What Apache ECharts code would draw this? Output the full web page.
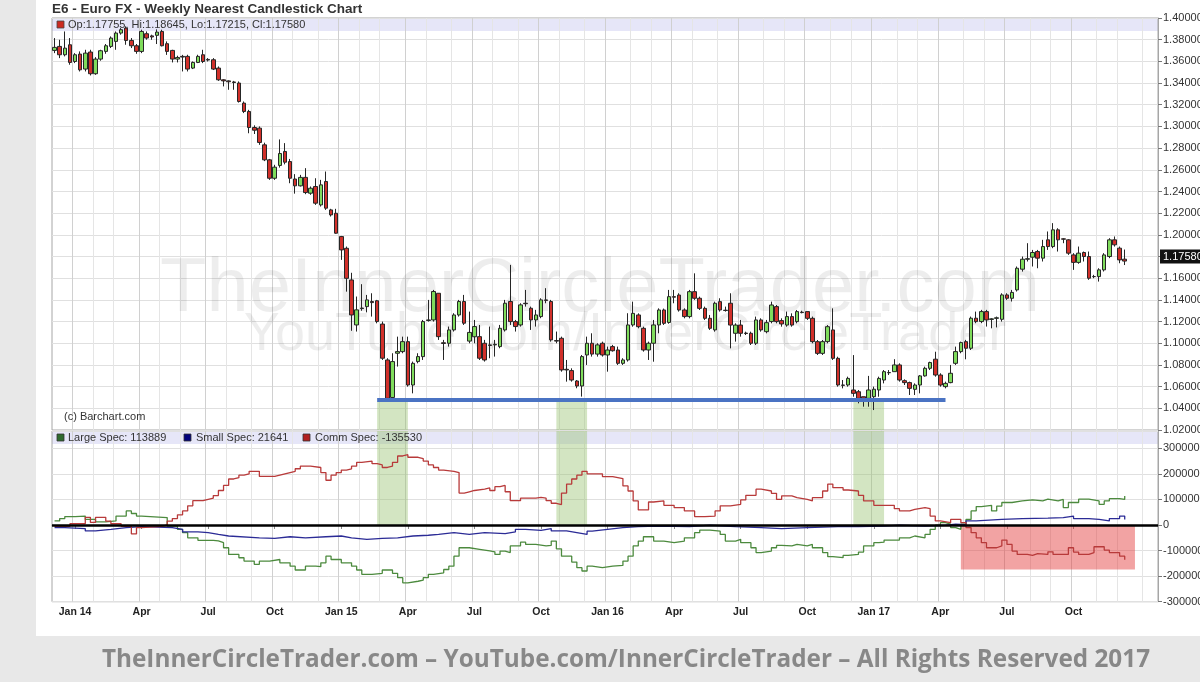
<!DOCTYPE html>
<html><head><meta charset="utf-8">
<script src="https://cdn.jsdelivr.net/npm/echarts@6/dist/echarts.min.js"></script>
<style>html,body{margin:0;padding:0;background:#e8e8e8;}#c{width:1200px;height:682px;}</style>
</head><body><div id="c"></div>
<script>
// ---------- DATA ----------
const startWeek = '2013-12-02';
const weekCount = 216;

// weekly candles: [open, high, low, close]
const ohlc = [
[1.3701,1.3815,1.3676,1.3729],[1.3738,1.3799,1.3630,1.3661],[1.3661,1.3876,1.3646,1.3722],[1.3753,1.3815,1.3569,1.3590],
[1.3599,1.3676,1.3584,1.3661],[1.3667,1.3692,1.3507,1.3522],[1.3529,1.3707,1.3507,1.3676],[1.3686,1.3707,1.3470,1.3486],
[1.3486,1.3639,1.3476,1.3621],[1.3621,1.3707,1.3606,1.3698],[1.3692,1.3760,1.3670,1.3744],[1.3738,1.3830,1.3723,1.3815],
[1.3784,1.3876,1.3707,1.3861],[1.3861,1.3907,1.3846,1.3892],[1.3907,1.3923,1.3753,1.3793],[1.3793,1.3815,1.3723,1.3744],
[1.3744,1.3760,1.3670,1.3692],[1.3692,1.3892,1.3676,1.3876],[1.3855,1.3876,1.3800,1.3815],[1.3835,1.3846,1.3799,1.3825],
[1.3840,1.3895,1.3760,1.3870],[1.3876,1.3892,1.3738,1.3744],[1.3763,1.3784,1.3660,1.3692],[1.3701,1.3707,1.3590,1.3621],
[1.3621,1.3652,1.3590,1.3636],[1.3646,1.3660,1.3507,1.3640],[1.3646,1.3661,1.3507,1.3529],[1.3538,1.3599,1.3529,1.3590],
[1.3590,1.3661,1.3584,1.3646],[1.3661,1.3707,1.3584,1.3599],[1.3618,1.3630,1.3599,1.3612],[1.3615,1.3630,1.3520,1.3529],
[1.3538,1.3553,1.3420,1.3430],[1.3430,1.3435,1.3369,1.3420],[1.3420,1.3425,1.3338,1.3412],[1.3410,1.3420,1.3338,1.3405],
[1.3400,1.3415,1.3220,1.3230],[1.3215,1.3230,1.3123,1.3138],[1.3138,1.3153,1.2937,1.2990],[1.2990,1.3010,1.2930,1.2965],
[1.2984,1.3000,1.2830,1.2852],[1.2830,1.2850,1.2680,1.2692],[1.2692,1.2700,1.2507,1.2522],[1.2522,1.2646,1.2507,1.2624],
[1.2640,1.2880,1.2620,1.2750],[1.2769,1.2846,1.2650,1.2670],[1.2676,1.2700,1.2476,1.2522],[1.2515,1.2560,1.2380,1.2452],
[1.2452,1.2553,1.2446,1.2530],[1.2530,1.2615,1.2375,1.2390],[1.2384,1.2446,1.2369,1.2430],[1.2446,1.2522,1.2276,1.2292],
[1.2276,1.2507,1.2261,1.2461],[1.2492,1.2584,1.2230,1.2246],[1.2230,1.2240,1.2169,1.2184],[1.2199,1.2240,1.2010,1.2015],
[1.1984,1.1990,1.1769,1.1861],[1.1876,1.1892,1.1476,1.1599],[1.1584,1.1650,1.1115,1.1261],[1.1169,1.1431,1.1108,1.1308],
[1.1320,1.1545,1.1300,1.1325],[1.1338,1.1446,1.1285,1.1400],[1.1385,1.1461,1.1246,1.1375],[1.1392,1.1400,1.1184,1.1200],
[1.1177,1.1200,1.0846,1.0862],[1.0846,1.0862,1.0480,1.0492],[1.0500,1.0908,1.0480,1.0831],[1.0908,1.1061,1.0785,1.0923],
[1.0923,1.1061,1.0908,1.1015],[1.1015,1.1061,1.0600,1.0615],[1.0615,1.0831,1.0538,1.0815],[1.0831,1.0908,1.0815,1.0877],
[1.0877,1.1215,1.0846,1.1200],[1.1210,1.1400,1.1200,1.1215],[1.1215,1.1492,1.1200,1.1477],[1.1461,1.1461,1.1031,1.1061],
[1.1005,1.1031,1.0846,1.0998],[1.1000,1.1154,1.0969,1.1123],[1.1123,1.1277,1.1108,1.1261],[1.1261,1.1400,1.1246,1.1385],
[1.1385,1.1446,1.1169,1.1185],[1.1020,1.1292,1.1000,1.1100],[1.1060,1.1215,1.1000,1.1154],[1.1061,1.1169,1.0846,1.0862],
[1.1000,1.1031,1.0831,1.0846],[1.0985,1.1154,1.0862,1.0980],[1.0985,1.1031,1.0877,1.0990],[1.0969,1.1169,1.0954,1.1138],
[1.1123,1.1400,1.1108,1.1369],[1.1385,1.1723,1.1169,1.1200],[1.1200,1.1215,1.1108,1.1154],[1.1169,1.1369,1.1154,1.1354],
[1.1369,1.1492,1.1338,1.1365],[1.1323,1.1338,1.1123,1.1215],[1.1215,1.1308,1.1154,1.1261],[1.1246,1.1415,1.1231,1.1400],
[1.1400,1.1508,1.1369,1.1395],[1.1385,1.1400,1.1015,1.1031],[1.1025,1.1108,1.1000,1.1020],[1.1046,1.1061,1.0738,1.0754],
[1.0760,1.0846,1.0646,1.0754],[1.0748,1.0769,1.0646,1.0661],[1.0652,1.0661,1.0585,1.0606],[1.0606,1.0892,1.0508,1.0877],
[1.0892,1.1061,1.0800,1.1000],[1.1000,1.1092,1.0877,1.0900],[1.0900,1.1000,1.0877,1.0985],[1.1000,1.1015,1.0877,1.0892],
[1.0892,1.0969,1.0738,1.0938],[1.0969,1.0985,1.0923,1.0931],[1.0938,1.0969,1.0800,1.0815],[1.0815,1.0862,1.0800,1.0846],
[1.0846,1.1277,1.0831,1.1169],[1.1169,1.1384,1.1153,1.1276],[1.1261,1.1276,1.1138,1.1153],[1.1138,1.1153,1.0923,1.0938],
[1.0938,1.1015,1.0846,1.1000],[1.1000,1.1215,1.0830,1.1169],[1.1169,1.1322,1.1092,1.1307],[1.1307,1.1320,1.1169,1.1184],
[1.1192,1.1492,1.1180,1.1430],[1.1430,1.1492,1.1369,1.1425],[1.1445,1.1461,1.1292,1.1307],[1.1307,1.1322,1.1230,1.1246],
[1.1246,1.1492,1.1230,1.1476],[1.1476,1.1645,1.1400,1.1415],[1.1415,1.1430,1.1307,1.1322],[1.1322,1.1338,1.1215,1.1230],
[1.1230,1.1261,1.1123,1.1138],[1.1123,1.1384,1.1107,1.1369],[1.1384,1.1415,1.1292,1.1307],[1.1305,1.1338,1.1292,1.1302],
[1.1369,1.1461,1.0953,1.1168],[1.1092,1.1184,1.1015,1.1168],[1.1168,1.1215,1.1061,1.1092],[1.1094,1.1107,1.1076,1.1090],
[1.1092,1.1107,1.0984,1.1000],[1.1000,1.1246,1.0984,1.1215],[1.1215,1.1230,1.1107,1.1123],[1.1107,1.1215,1.1092,1.1190],
[1.1200,1.1384,1.1184,1.1353],[1.1338,1.1353,1.1184,1.1200],[1.1209,1.1230,1.1153,1.1178],[1.1168,1.1292,1.1153,1.1246],
[1.1246,1.1276,1.1153,1.1168],[1.1200,1.1307,1.1184,1.1292],[1.1287,1.1300,1.1276,1.1283],[1.1292,1.1292,1.1215,1.1230],
[1.1230,1.1246,1.1000,1.1015],[1.1015,1.1030,1.0892,1.0907],[1.0907,1.1030,1.0892,1.1015],[1.1015,1.1168,1.1000,1.1153],
[1.1123,1.1322,1.0846,1.0861],[1.0861,1.0876,1.0600,1.0615],[1.0615,1.0661,1.0584,1.0612],[1.0615,1.0692,1.0600,1.0676],
[1.0569,1.0891,1.0507,1.0538],[1.0553,1.0569,1.0446,1.0492],[1.0507,1.0507,1.0415,1.0492],[1.0492,1.0699,1.0415,1.0569],
[1.0507,1.0600,1.0384,1.0576],[1.0569,1.0692,1.0507,1.0676],[1.0661,1.0753,1.0630,1.0738],[1.0730,1.0753,1.0707,1.0728],
[1.0738,1.0853,1.0738,1.0800],[1.0800,1.0815,1.0646,1.0661],[1.0655,1.0667,1.0615,1.0637],[1.0637,1.0646,1.0523,1.0584],
[1.0575,1.0630,1.0523,1.0615],[1.0615,1.0707,1.0538,1.0699],[1.0699,1.0784,1.0692,1.0769],[1.0769,1.0830,1.0753,1.0822],
[1.0853,1.0922,1.0692,1.0707],[1.0707,1.0723,1.0600,1.0615],[1.0600,1.0646,1.0584,1.0630],[1.0637,1.0800,1.0631,1.0723],
[1.0815,1.0969,1.0800,1.0923],[1.0923,1.1015,1.0908,1.1006],[1.1015,1.1031,1.0852,1.0954],[1.0954,1.1246,1.0938,1.1231],
[1.1231,1.1292,1.1185,1.1200],[1.1200,1.1308,1.1185,1.1292],[1.1292,1.1308,1.1154,1.1215],[1.1220,1.1231,1.1138,1.1225],
[1.1230,1.1246,1.1146,1.1235],[1.1221,1.1461,1.1200,1.1446],[1.1446,1.1461,1.1400,1.1415],[1.1415,1.1492,1.1385,1.1469],
[1.1492,1.1708,1.1477,1.1692],[1.1683,1.1800,1.1661,1.1775],[1.1775,1.1923,1.1754,1.1780],[1.1794,1.1861,1.1708,1.1837],
[1.1846,1.1861,1.1692,1.1785],[1.1785,1.1954,1.1754,1.1892],[1.1954,1.2031,1.1861,1.1892],[1.1892,1.2108,1.1877,1.2046],
[1.2046,1.2061,1.1846,1.1954],[1.1963,1.1969,1.1923,1.1960],[1.1954,1.1960,1.1815,1.1831],[1.1815,1.1831,1.1677,1.1746],
[1.1746,1.1892,1.1733,1.1831],[1.1837,1.1846,1.1754,1.1800],[1.1800,1.1846,1.1585,1.1600],[1.1615,1.1631,1.1600,1.1615],
[1.1615,1.1692,1.1569,1.1677],[1.1677,1.1831,1.1662,1.1815],[1.1800,1.1969,1.1785,1.1954],[1.1954,1.1985,1.1892,1.1908],
[1.1877,1.1892,1.1738,1.1769],[1.17755,1.18645,1.17215,1.17580]
];

// COT net positions, step points: [week index, value]
const largeSpec = [[0,16000],[1,25000],[2,33000],[4,35000],[6,22000],[8,12000],[10,16000],[12,35000],[14,55000],[15,45000],[16,35000],[17,29000],[22,-4000],[24,-17000],[25,-30000],[26,-50000],[28,-60000],[31,-62000],[32,-69000],[33,-89000],[34,-115000],[36,-128000],[37,-141000],[39,-154000],[40,-141000],[42,-135000],[44,-148000],[46,-161000],[47,-176000],[49,-161000],[51,-163000],[52,-148000],[53,-122000],[54,-135000],[56,-148000],[58,-161000],[59,-176000],[60,-193000],[62,-189000],[64,-176000],[66,-189000],[67,-206000],[68,-226000],[69,-220000],[71,-216000],[72,-206000],[73,-193000],[74,-187000],[76,-174000],[77,-161000],[78,-122000],[79,-89000],[81,-95000],[83,-101000],[85,-105000],[86,-115000],[87,-102000],[88,-108000],[89,-82000],[91,-67000],[92,-76000],[94,-82000],[96,-80000],[97,-63000],[98,-93000],[99,-122000],[101,-145000],[102,-167000],[103,-180000],[104,-161000],[105,-167000],[107,-161000],[109,-158000],[111,-141000],[112,-122000],[113,-82000],[114,-63000],[115,-46000],[117,-63000],[119,-69000],[121,-63000],[123,-50000],[125,-30000],[126,-20000],[128,-24000],[130,-37000],[131,-63000],[133,-56000],[134,-69000],[136,-89000],[137,-108000],[138,-102000],[140,-89000],[141,-80000],[142,-82000],[144,-76000],[145,-82000],[147,-76000],[148,-89000],[150,-108000],[151,-124000],[152,-128000],[154,-119000],[155,-115000],[157,-106000],[158,-82000],[160,-69000],[161,-67000],[162,-59000],[165,-50000],[167,-43000],[168,-50000],[170,-37000],[171,-17000],[172,-1000],[173,9000],[174,3000],[175,-10000],[176,-17000],[177,3000],[178,22000],[179,55000],[180,72000],[181,77000],[183,55000],[184,74000],[185,88000],[187,94000],[189,98000],[191,94000],[193,101000],[194,94000],[196,100000],[197,68000],[198,88000],[200,101000],[202,94000],[204,81000],[205,94000],[206,103000],[208,100000],[209,113889]];
const smallSpec = [[0,-10000],[2,-14000],[6,-23000],[8,-17000],[11,-10000],[14,-6500],[17,-10000],[23,-17000],[25,-27000],[28,-30000],[30,-37000],[32,-43000],[34,-50000],[40,-52000],[43,-46000],[46,-50000],[49,-46000],[53,-43000],[56,-50000],[58,-56000],[61,-52000],[64,-50000],[67,-43000],[70,-40000],[73,-37000],[75,-30000],[78,-37000],[81,-30000],[84,-34000],[88,-27000],[90,-17000],[92,-21000],[95,-14000],[97,-23000],[100,-30000],[102,-37000],[104,-24000],[105,-17000],[108,-10000],[111,-6500],[114,-4000],[118,-6500],[124,-1000],[128,-6500],[133,-10000],[138,-14000],[142,-10000],[147,-6500],[153,-6500],[157,-4000],[162,-1000],[165,-4000],[170,-1000],[174,3000],[176,1000],[178,16000],[180,22000],[185,25000],[189,27000],[194,29000],[197,35000],[199,25000],[202,22000],[204,16000],[206,25000],[208,35000],[209,21641]];
const commSpec = [[0,-5000],[3,5000],[6,30000],[7,10000],[8,30000],[10,15000],[11,5000],[13,-5000],[15,-35000],[16,-10000],[17,-5000],[21,0],[22,15000],[23,25000],[24,40000],[25,55000],[26,75000],[27,95000],[29,100000],[30,105000],[31,115000],[32,135000],[33,155000],[34,180000],[35,185000],[36,195000],[37,200000],[38,210000],[40,190000],[43,195000],[44,200000],[45,205000],[46,210000],[47,220000],[48,230000],[50,225000],[52,205000],[53,175000],[54,195000],[55,205000],[56,215000],[57,220000],[58,230000],[59,245000],[60,250000],[62,240000],[63,235000],[64,225000],[65,230000],[66,245000],[67,270000],[68,275000],[69,265000],[71,260000],[72,250000],[73,235000],[74,225000],[75,215000],[76,210000],[78,205000],[79,125000],[80,130000],[81,135000],[82,140000],[84,145000],[85,135000],[86,150000],[87,155000],[88,130000],[89,95000],[91,105000],[94,108000],[95,105000],[96,95000],[97,85000],[98,80000],[99,125000],[100,160000],[101,180000],[102,195000],[103,210000],[104,200000],[107,189500],[109,181700],[111,153000],[112,133000],[113,94000],[114,59000],[116,90000],[117,94000],[119,77000],[121,68000],[123,55000],[125,33000],[127,35000],[129,55000],[130,75000],[132,81000],[134,98000],[135,116000],[137,140000],[138,133000],[140,124000],[141,100000],[142,114000],[144,107000],[145,100000],[147,94000],[148,107000],[150,133000],[151,160000],[152,146000],[154,137000],[155,133000],[157,116000],[158,94000],[160,77000],[164,64000],[165,55000],[167,61000],[168,68000],[170,64000],[171,35000],[172,16000],[173,9000],[175,22000],[177,9000],[178,-10000],[179,-30000],[180,-50000],[181,-69000],[182,-89000],[184,-82000],[185,-59000],[186,-76000],[187,-102000],[188,-115000],[190,-119000],[191,-112000],[192,-115000],[194,-105000],[195,-115000],[198,-89000],[199,-106000],[200,-115000],[202,-108000],[203,-85000],[205,-98000],[206,-108000],[208,-122000],[209,-135530]];

const quarterStarts = ['2014-01-01','2014-04-01','2014-07-01','2014-10-01','2015-01-01','2015-04-01','2015-07-01','2015-10-01','2016-01-01','2016-04-01','2016-07-01','2016-10-01','2017-01-01','2017-04-01','2017-07-01','2017-10-01'];
const quarterLabels = ['Jan 14','Apr','Jul','Oct','Jan 15','Apr','Jul','Oct','Jan 16','Apr','Jul','Oct','Jan 17','Apr','Jul','Oct'];

const priceMin = 1.02, priceMax = 1.40, priceStep = 0.02;
const cotMin = -300000, cotMax = 367700, cotStep = 100000;
const lastPrice = 1.17580;
const supportLevel = 1.0477;
const supportFrom = 63, supportTo = 174;
const greenBands = [[63,69],[98,104],[156,162]];
const redBox = [177, 211, -174000];

// ---------- BUILD ----------
const DAY = 86400000;
const t0 = Date.parse(startWeek + 'T00:00:00Z');
const cats = [];
for (let i = 0; i < weekCount; i++) cats.push(new Date(t0 + i * 7 * DAY).toISOString().slice(0, 10));
const labelMap = new Map();
quarterStarts.forEach((q, k) => {
  const tq = Date.parse(q + 'T00:00:00Z');
  const idx = Math.floor((tq - t0) / (7 * DAY));
  labelMap.set(idx, quarterLabels[k]);
});
const monthSet = new Set();
for (let i = 0; i < weekCount; i++) {
  const a = new Date(t0 + i * 7 * DAY), b = new Date(t0 + (i * 7 + 6) * DAY);
  if (a.getUTCDate() === 1 || a.getUTCMonth() !== b.getUTCMonth()) monthSet.add(i);
}
const candleData = ohlc.map(r => [r[0], r[3], r[2], r[1]]);

const chart = echarts.init(document.getElementById('c'), null, {renderer: 'canvas'});
const FONT = '"Liberation Sans", Arial, sans-serif';
const gridBase = {left: 52, right: 42, show: true, borderColor: '#a6a6a6', borderWidth: 1, backgroundColor: 'transparent', outerBoundsMode: 'none', containLabel: false};

function xAxisFor(gridIndex, opts) {
  return Object.assign({
    type: 'category', gridIndex, data: cats, boundaryGap: true,
    axisLine: {show: false}, axisTick: {show: false}, axisLabel: {show: false},
    splitLine: {show: true, interval: (i) => monthSet.has(i), lineStyle: {color: '#e5e5e5', width: 1}}
  }, opts || {});
}
const quarterLine = {show: true, interval: (i) => labelMap.has(i), lineStyle: {color: '#d0d0d0', width: 1}};

const option = {
  animation: false,
  backgroundColor: '#e8e8e8',
  grid: [
    Object.assign({top: 18, height: 412}, gridBase),
    Object.assign({top: 431, height: 170.7}, gridBase)
  ],
  xAxis: [
    xAxisFor(0),
    xAxisFor(1, {
      axisLine: {show: true, lineStyle: {color: '#a6a6a6'}},
      axisTick: {show: true, interval: (i) => labelMap.has(i), alignWithLabel: true, length: 4, lineStyle: {color: '#888'}},
      axisLabel: {show: true, interval: (i) => labelMap.has(i), formatter: (v, i) => labelMap.get(i) || '',
        fontFamily: FONT, fontSize: 10.5, fontWeight: 'bold', color: '#222', margin: 5}
    }),
    xAxisFor(0, {position: 'top', splitLine: quarterLine}),
    xAxisFor(1, {position: 'top', splitLine: quarterLine})
  ],
  yAxis: [
    {type: 'value', gridIndex: 0, position: 'right', min: priceMin, max: priceMax, interval: priceStep, scale: true,
     axisLine: {show: true, lineStyle: {color: '#a6a6a6'}}, axisTick: {show: true, length: 4, lineStyle: {color: '#777'}},
     axisLabel: {formatter: v => v.toFixed(5), fontFamily: FONT, fontSize: 11, color: '#333', margin: 5},
     splitLine: {show: true, lineStyle: {color: '#e0e0e0'}}},
    {type: 'value', gridIndex: 1, position: 'right', min: cotMin, max: cotMax, interval: cotStep,
     axisLine: {show: true, lineStyle: {color: '#a6a6a6'}}, axisTick: {show: true, length: 4, lineStyle: {color: '#777'}},
     axisLabel: {formatter: v => (v > 300000 ? '' : String(Math.round(v))), showMaxLabel: false, fontFamily: FONT, fontSize: 11, color: '#333', margin: 5},
     splitLine: {show: true, lineStyle: {color: '#e0e0e0'}}}
  ],
  series: [
    {
      type: 'candlestick', name: 'E6', xAxisIndex: 0, yAxisIndex: 0, data: candleData, barWidth: 4, z: 3,
      itemStyle: {color: '#7fdc5c', color0: '#d1302a', borderColor: '#262626', borderColor0: '#262626', borderWidth: 1},
      markLine: {
        silent: true, symbol: 'none', animation: false, z: 20,
        data: [
          [{coord: [cats[supportFrom], supportLevel], lineStyle: {color: '#4a73c3', width: 4, type: 'solid'}, label: {show: false}},
           {coord: [cats[supportTo], supportLevel]}],
          {yAxis: lastPrice, lineStyle: {color: 'rgba(0,0,0,0)', width: 0}, label: {show: true, position: 'end', distance: 2, formatter: lastPrice.toFixed(5),
            backgroundColor: '#111', color: '#fff', fontFamily: FONT, fontSize: 11, padding: [2, 3, 1, 3]}}
        ]
      },
      markArea: {
        silent: true, itemStyle: {color: 'rgba(150,192,110,0.42)'},
        data: greenBands.map(b => [{xAxis: cats[b[0]], yAxis: supportLevel - 0.0012}, {xAxis: cats[b[1]], yAxis: priceMin}])
      }
    },
    {
      type: 'line', name: 'Large Spec', xAxisIndex: 1, yAxisIndex: 1, data: largeSpec, step: 'end', symbol: 'none', z: 3,
      lineStyle: {color: '#4c8a3e', width: 1.3},
      markArea: {
        silent: true, itemStyle: {color: 'rgba(150,192,110,0.42)'},
        data: greenBands.map(b => [{xAxis: cats[b[0]], yAxis: 0}, {xAxis: cats[b[1]], yAxis: cotMax}])
      }
    },
    {
      type: 'line', name: 'Small Spec', xAxisIndex: 1, yAxisIndex: 1, data: smallSpec, step: 'end', symbol: 'none', z: 3,
      lineStyle: {color: '#2b2b96', width: 1.3}
    },
    {
      type: 'line', name: 'Comm Spec', xAxisIndex: 1, yAxisIndex: 1, data: commSpec, step: 'end', symbol: 'none', z: 4,
      lineStyle: {color: '#b83a3a', width: 1.3},
      markArea: {
        silent: true, itemStyle: {color: 'rgba(228,62,62,0.48)'},
        data: [[{xAxis: cats[redBox[0]], yAxis: 0}, {xAxis: cats[redBox[1]], yAxis: redBox[2]}]]
      },
      markLine: {
        silent: true, symbol: 'none', animation: false, label: {show: false},
        lineStyle: {color: '#000', width: 2.6, type: 'solid'},
        data: [{yAxis: 0}]
      }
    }
  ],
  graphic: [
    {type: 'rect', z: -100, shape: {x: 36, y: 0, width: 1164, height: 636}, style: {fill: '#ffffff'}},
    {type: 'rect', z: -50, shape: {x: 52, y: 18, width: 1106, height: 13}, style: {fill: '#e6e6f8'}},
    {type: 'rect', z: -50, shape: {x: 52, y: 431, width: 1106, height: 13}, style: {fill: '#e6e6f8'}},
    {type: 'text', z: 1, x: 600, y: 290, style: {text: 'TheInnerCircleTrader.com', font: '76px "Liberation Sans", Arial, sans-serif', fill: 'rgba(0,0,0,0.07)', align: 'center', verticalAlign: 'middle'}},
    {type: 'text', z: 1, x: 625, y: 335, style: {text: 'YouTube.com/InnerCircleTrader', font: '54px "Liberation Sans", Arial, sans-serif', fill: 'rgba(0,0,0,0.07)', align: 'center', verticalAlign: 'middle'}},
    {type: 'text', z: 10, x: 52, y: 9, style: {text: 'E6 - Euro FX - Weekly Nearest Candlestick Chart', font: 'bold 13.5px "Liberation Sans", Arial, sans-serif', fill: '#333', align: 'left', verticalAlign: 'middle'}},
    {type: 'rect', z: 10, shape: {x: 57, y: 21, width: 7, height: 7}, style: {fill: '#cc2a22', stroke: '#444', lineWidth: 0.8}},
    {type: 'text', z: 10, x: 68, y: 25, style: {text: 'Op:1.17755, Hi:1.18645, Lo:1.17215, Cl:1.17580', font: '11px "Liberation Sans", Arial, sans-serif', fill: '#333', align: 'left', verticalAlign: 'middle'}},
    {type: 'text', z: 10, x: 64, y: 417, style: {text: '(c) Barchart.com', font: '11px "Liberation Sans", Arial, sans-serif', fill: '#333', align: 'left', verticalAlign: 'middle'}},
    {type: 'rect', z: 10, shape: {x: 57, y: 434, width: 7, height: 7}, style: {fill: '#2f6b2f', stroke: '#333', lineWidth: 0.8}},
    {type: 'text', z: 10, x: 68, y: 438, style: {text: 'Large Spec: 113889', font: '11px "Liberation Sans", Arial, sans-serif', fill: '#333', align: 'left', verticalAlign: 'middle'}},
    {type: 'rect', z: 10, shape: {x: 184, y: 434, width: 7, height: 7}, style: {fill: '#00007a', stroke: '#333', lineWidth: 0.8}},
    {type: 'text', z: 10, x: 196, y: 438, style: {text: 'Small Spec: 21641', font: '11px "Liberation Sans", Arial, sans-serif', fill: '#333', align: 'left', verticalAlign: 'middle'}},
    {type: 'rect', z: 10, shape: {x: 303, y: 434, width: 7, height: 7}, style: {fill: '#b22020', stroke: '#333', lineWidth: 0.8}},
    {type: 'text', z: 10, x: 315, y: 438, style: {text: 'Comm Spec: -135530', font: '11px "Liberation Sans", Arial, sans-serif', fill: '#333', align: 'left', verticalAlign: 'middle'}},
    {type: 'text', z: 10, x: 626, y: 660, style: {text: 'TheInnerCircleTrader.com \u2013 YouTube.com/InnerCircleTrader \u2013 All Rights Reserved 2017', font: 'bold 24.3px "Open Sans", "Liberation Sans", sans-serif', fill: '#888888', align: 'center', verticalAlign: 'middle'}}
  ]
};
chart.setOption(option);
</script>
</body></html>
